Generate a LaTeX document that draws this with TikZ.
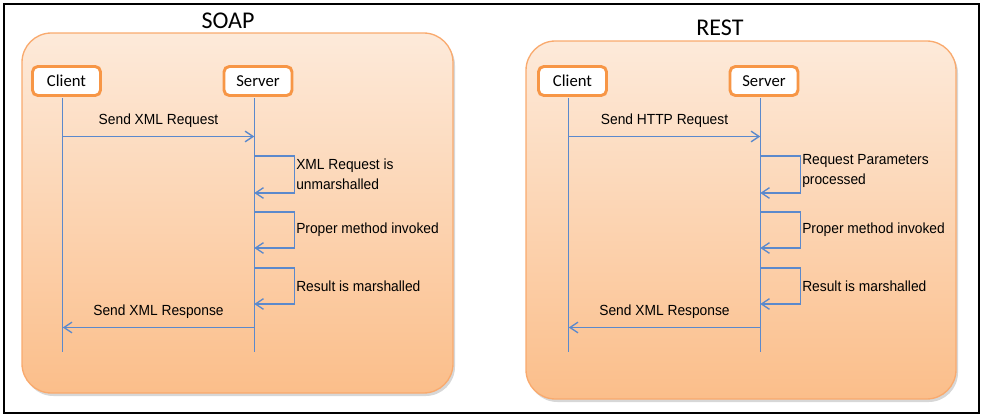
\documentclass[tikz,border=0pt]{standalone}
\usepackage{fontspec}
\setmainfont{Carlito}
\newfontfamily\lblfont[FakeStretch=0.94]{Liberation Sans}
\usetikzlibrary{arrows.meta}
\definecolor{panelTop}{RGB}{253,234,218}
\definecolor{panelBot}{RGB}{251,190,138}
\definecolor{panelEdge}{RGB}{249,170,110}
\definecolor{boxEdge}{RGB}{247,150,70}
\definecolor{lifeBlue}{RGB}{91,137,204}
\tikzset{
  actor/.style={draw=boxEdge, line width=2.2pt, fill=white, rounded corners=4pt,
    minimum width=51pt, minimum height=21.75pt, inner sep=0pt, font=\fontsize{12.5}{15}\selectfont},
  panel/.style={top color=panelTop, bottom color=panelBot, draw=panelEdge, line width=1pt, rounded corners=22pt},
  panelshadow/.style={fill=black!35, opacity=0.45, rounded corners=22pt},
  life/.style={draw=lifeBlue, line width=1pt},
  msg/.style={life, -{Straight Barb[length=6pt,width=8pt]}},
  lbl/.style={font=\lblfont\fontsize{11}{15}\selectfont, inner sep=1pt},
  title/.style={font=\fontsize{18}{22}\selectfont}
}
\begin{document}
\begin{tikzpicture}[x=0.75pt, y=-0.75pt]
\useasboundingbox (0,0) rectangle (983,418);
\draw[line width=2pt] (4,4) rectangle (979,413);

\coordinate (req) at (0,136.5);
\coordinate (l1a) at (0,156);
\coordinate (l1b) at (0,193);
\coordinate (l2a) at (0,212);
\coordinate (l2b) at (0,248);
\coordinate (l3a) at (0,268);
\coordinate (l3b) at (0,304);
\coordinate (rsp) at (0,327.5);
\coordinate (bot) at (0,352);

\fill[panelshadow] (24,36) rectangle (455,396);
\shade[panel] (22,33) rectangle (453,393);
\node[title] (soap) at (228,21) {SOAP};

\fill[panelshadow] (528,44) rectangle (958,402);
\shade[panel] (526,41) rectangle (956,399);
\node[title] (rest) at (720,28) {REST};

\node[actor] (sc) at (66.5,81) {Client};
\node[actor] (ss) at (258,81) {Server};
\coordinate (sct) at ([xshift=-2.8pt, yshift=-1.1pt]sc.south);
\coordinate (sst) at ([xshift=-2.8pt, yshift=-1.1pt]ss.south);
\draw[life] (sct) -- (sct |- bot);
\draw[life] (sst) -- (sst |- bot);
\draw[msg] (sct |- req) -- node[lbl, above=5.5pt] (sreq) {Send XML Request} (sst |- req);
\draw[msg] (sst |- l1a) -- ++(40,0) |- node[lbl, pos=0.25, right, align=left] (sl1) {XML Request is\\unmarshalled} (sst |- l1b);
\draw[msg] (sst |- l2a) -- ++(40,0) |- node[lbl, pos=0.25, right] (sl2) {Proper method invoked} (sst |- l2b);
\draw[msg] (sst |- l3a) -- ++(40,0) |- node[lbl, pos=0.25, right] (sl3) {Result is marshalled} (sst |- l3b);
\draw[msg] (sst |- rsp) -- node[lbl, above=5.5pt] (srsp) {Send XML Response} (sct |- rsp);

\begin{scope}[shift={(506,0)}]
\node[actor] (rc) at (66.5,81) {Client};
\node[actor] (rs) at (258,81) {Server};
\coordinate (rct) at ([xshift=-2.8pt, yshift=-1.1pt]rc.south);
\coordinate (rst) at ([xshift=-2.8pt, yshift=-1.1pt]rs.south);
\draw[life] (rct) -- (rct |- bot);
\draw[life] (rst) -- (rst |- bot);
\draw[msg] (rct |- req) -- node[lbl, above=5.5pt] (rreq) {Send HTTP Request} (rst |- req);
\draw[msg] (rst |- l1a) -- ++(40,0) |- node[lbl, pos=0.25, right, align=left, yshift=3pt] (rl1) {Request Parameters\\processed} (rst |- l1b);
\draw[msg] (rst |- l2a) -- ++(40,0) |- node[lbl, pos=0.25, right] (rl2) {Proper method invoked} (rst |- l2b);
\draw[msg] (rst |- l3a) -- ++(40,0) |- node[lbl, pos=0.25, right] (rl3) {Result is marshalled} (rst |- l3b);
\draw[msg] (rst |- rsp) -- node[lbl, above=5.5pt] (rrsp) {Send XML Response} (rct |- rsp);
\end{scope}
\end{tikzpicture}
\end{document}
